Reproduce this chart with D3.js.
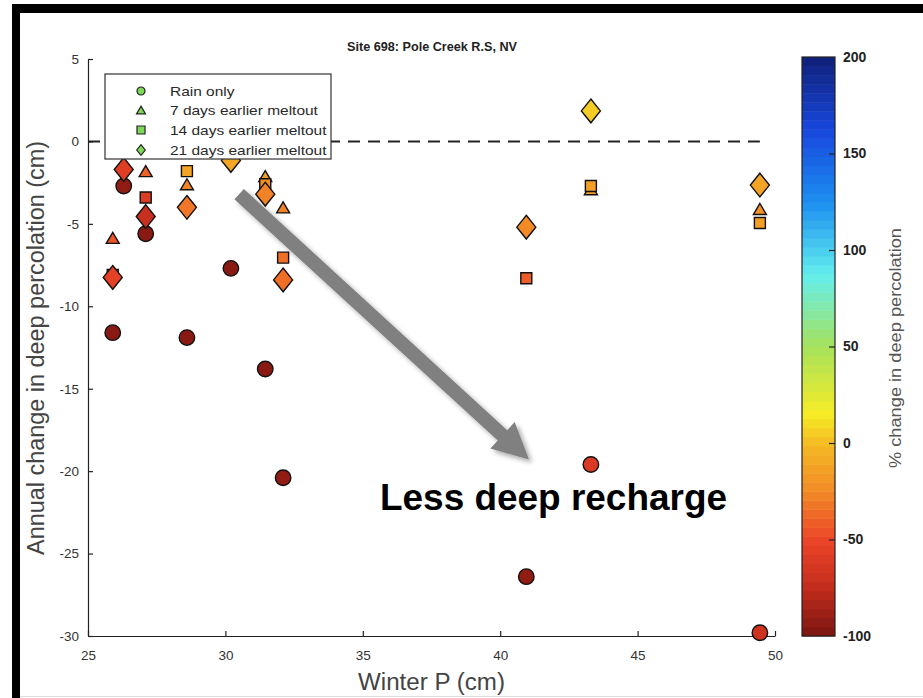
<!DOCTYPE html>
<html><head><meta charset="utf-8">
<script src="https://cdn.jsdelivr.net/npm/d3@7"></script>
<style>
html,body{margin:0;padding:0;background:#fff;}
svg{display:block;font-family:"Liberation Sans",Arial,Helvetica,sans-serif;}
</style></head><body>
<svg id="chart" width="923" height="698"></svg>
<script>
// Winter precipitation (cm) for each simulated year
const winterP = [25.9, 26.3, 27.1, 28.6, 30.2, 31.45, 32.1, 40.95, 43.3, 49.45];

// Annual change in deep percolation (cm) per scenario (null = not shown)
const rainOnly = [-11.6, -2.7, -5.6, -11.9, -7.7, -13.8, -20.4, -26.4, -19.6, -29.8];
const days7    = [-5.85, null, -1.8, -2.6, null, -2.1, -4.0, null, -2.9, -4.1];
const days14   = [-8.1, null, -3.4, -1.8, null, -2.6, -7.05, -8.3, -2.7, -4.95];
const days21   = [-8.25, -1.7, -4.55, -4.0, -1.15, -3.2, -8.4, -5.2, 1.85, -2.65];

// % change in deep percolation (marker colour)
const pctRain = [-95, -92, -95, -95, -95, -95, -92, -92, -62, -68];
const pct7    = [-45, null, -40, -28, null, -15, -28, null, -15, -22];
const pct14   = [-60, null, -60, -12, null, -22, -35, -42, -15, -15];
const pct21   = [-55, -58, -72, -32, -10, -28, -35, -25, 5, -12];

const seriesNames = ["Rain only", "7 days earlier meltout", "14 days earlier meltout", "21 days earlier meltout"];

const xTicks = [25, 30, 35, 40, 45, 50];
const yTicks = [5, 0, -5, -10, -15, -20, -25, -30];
const cbTicks = [200, 150, 100, 50, 0, -50, -100];

// colour map stops (reversed jet)
const cmapStops  = [-100, -75, -50, -25, 0, 15, 50, 87.5, 125, 162.5, 200];
const cmapColors = ["#7a1510", "#c22c1d", "#ec4629", "#f28a26", "#f4bb24", "#f6ec26",
                    "#a6e25c", "#62eeee", "#1c8ef0", "#1747dd", "#101f78"];

const svg = d3.select("#chart");
const W = 923, H = 698;

const x = d3.scaleLinear().domain([25, 50]).range([88, 775]);
const y = d3.scaleLinear().domain([-30, 5]).range([636, 59]);
const color = d3.scaleLinear().domain(cmapStops).range(cmapColors).interpolate(d3.interpolateRgb).clamp(true);
const cbY = d3.scaleLinear().domain([-100, 200]).range([636, 57]);

// stretch a text element to a given run length
function fitLength(sel, len) {
  sel.attr("textLength", len).attr("lengthAdjust", "spacingAndGlyphs");
}

// page frame
svg.append("rect").attr("x", 0).attr("y", 0).attr("width", W).attr("height", H).attr("fill", "#fff");
svg.append("rect").attr("x", 12).attr("y", 4).attr("width", W - 12).attr("height", 9).attr("fill", "#000");
svg.append("rect").attr("x", 12).attr("y", 4).attr("width", 8).attr("height", H - 4).attr("fill", "#000");
svg.append("line").attr("x1", 20).attr("x2", W).attr("y1", 696.5).attr("y2", 696.5).attr("stroke", "#ddd");

const defs = svg.append("defs");
const shadow = defs.append("filter").attr("id", "shadow").attr("x", "-20%").attr("y", "-20%").attr("width", "140%").attr("height", "140%");
shadow.append("feDropShadow").attr("dx", 3).attr("dy", 3).attr("stdDeviation", 2.5)
  .attr("flood-color", "#000").attr("flood-opacity", 0.35);

// axes
const axisColor = "#222";
const gy = svg.append("g").attr("transform", `translate(${x(25)},0)`)
  .call(d3.axisLeft(y).tickValues(yTicks).tickSizeInner(-5).tickSizeOuter(0).tickPadding(9).tickFormat(d3.format("d")));
const gx = svg.append("g").attr("transform", `translate(0,${y(-30)})`)
  .call(d3.axisBottom(x).tickValues(xTicks).tickSizeInner(-5).tickSizeOuter(0).tickPadding(14).tickFormat(d3.format("d")));
[gx, gy].forEach(g => {
  g.select(".domain").attr("stroke", axisColor).attr("stroke-width", 1.2);
  g.selectAll(".tick line").attr("stroke", axisColor).attr("stroke-width", 1.2);
  g.selectAll(".tick text").attr("fill", "#333").attr("font-size", 13.5).attr("font-family", "Liberation Sans, Arial, sans-serif");
});
gy.selectAll(".tick text").text(d => d < 0 ? "-" + Math.abs(d) : d);

// zero reference line
svg.append("line")
  .attr("x1", x(25)).attr("x2", x(d3.max(winterP)))
  .attr("y1", y(0)).attr("y2", y(0))
  .attr("stroke", "#222").attr("stroke-width", 2).attr("stroke-dasharray", "12,8");

// marker shapes
const circleSym = { draw(ctx, s) { const r = Math.sqrt(s) / 2; ctx.moveTo(r, 0); ctx.arc(0, 0, r, 0, 2 * Math.PI); } };
const triSym = { draw(ctx, s) { const w = Math.sqrt(s) / 2; const h = w * 0.85;
  ctx.moveTo(0, -h); ctx.lineTo(w, h); ctx.lineTo(-w, h); ctx.closePath(); } };
const sqSym = { draw(ctx, s) { const a = Math.sqrt(s) / 2; ctx.rect(-a, -a, 2 * a, 2 * a); } };
const diaSym = { draw(ctx, s) { const w = Math.sqrt(s) / 2; const h = w * 1.25;
  ctx.moveTo(0, -h); ctx.lineTo(w, 0); ctx.lineTo(0, h); ctx.lineTo(-w, 0); ctx.closePath(); } };

const series = [
  { vals: rainOnly, pct: pctRain, sym: circleSym, size: 15.5 },
  { vals: days7,    pct: pct7,    sym: triSym,    size: 13 },
  { vals: days14,   pct: pct14,   sym: sqSym,     size: 11 },
  { vals: days21,   pct: pct21,   sym: diaSym,    size: 19 }
];

const markers = svg.append("g");
series.forEach(s => {
  const pts = winterP.map((w, i) => ({ w, v: s.vals[i], p: s.pct[i] })).filter(d => d.v !== null);
  markers.append("g").selectAll("path").data(pts).join("path")
    .attr("transform", d => `translate(${x(d.w)},${y(d.v)})`)
    .attr("d", d3.symbol().type(s.sym).size(s.size * s.size))
    .attr("fill", d => color(d.p))
    .attr("stroke", "#111").attr("stroke-width", 1.4);
});

// annotation arrow (data coordinates)
const arrowFrom = [30.5, -3.2];
const arrowTo = [41.05, -19.3];
(function drawArrow() {
  const x0 = x(arrowFrom[0]), y0 = y(arrowFrom[1]);
  const x1 = x(arrowTo[0]), y1 = y(arrowTo[1]);
  const dx = x1 - x0, dy = y1 - y0, L = Math.hypot(dx, dy);
  const ux = dx / L, uy = dy / L, nx = -uy, ny = ux;
  const shaftHalf = 7, headLen = 36, headHalf = 18;
  const bx = x1 - ux * headLen, by = y1 - uy * headLen;
  const pts = [
    [x0 + nx * shaftHalf, y0 + ny * shaftHalf],
    [bx + nx * shaftHalf, by + ny * shaftHalf],
    [bx + nx * headHalf, by + ny * headHalf],
    [x1, y1],
    [bx - nx * headHalf, by - ny * headHalf],
    [bx - nx * shaftHalf, by - ny * shaftHalf],
    [x0 - nx * shaftHalf, y0 - ny * shaftHalf]
  ];
  svg.append("path").attr("d", d3.line()(pts) + "Z")
    .attr("fill", "#808080").attr("filter", "url(#shadow)");
})();

svg.append("text").attr("x", 380).attr("y", 510)
  .attr("font-size", 36).attr("font-weight", "bold").attr("fill", "#000")
  .text("Less deep recharge").call(fitLength, 347);

// legend
const lg = svg.append("g");
lg.append("rect").attr("x", 105).attr("y", 74).attr("width", 226).attr("height", 85)
  .attr("fill", "#fff").attr("stroke", "#333").attr("stroke-width", 1.2);
const legendRowY = [91, 110, 130, 150];
const legendSize = [8, 9, 8, 8.5];
series.forEach((s, i) => {
  lg.append("path").attr("transform", `translate(141,${legendRowY[i]})`)
    .attr("d", d3.symbol().type(s.sym).size(legendSize[i] * legendSize[i]))
    .attr("fill", "#7bd858").attr("stroke", "#222").attr("stroke-width", 1.2);
  const t = lg.append("text").attr("x", 170).attr("y", legendRowY[i] + 4.5)
    .attr("font-size", 13).attr("fill", "#2a2a2a").text(seriesNames[i]);
  t.call(fitLength, t.node().getComputedTextLength() * 1.19);
});

// title
svg.append("text").attr("x", 432).attr("y", 51).attr("text-anchor", "middle")
  .attr("font-size", 12.5).attr("font-weight", "bold").attr("fill", "#222")
  .text("Site 698: Pole Creek R.S, NV").call(fitLength, 170);

// axis labels
svg.append("text").attr("x", x(37.5)).attr("y", 690).attr("text-anchor", "middle")
  .attr("font-size", 23).attr("fill", "#444").text("Winter P (cm)").call(fitLength, 147);
svg.append("text").attr("transform", `translate(43.5,348) rotate(-90)`)
  .attr("text-anchor", "middle").attr("font-size", 23).attr("fill", "#444")
  .text("Annual change in deep percolation (cm)").call(fitLength, 414);

// colour bar
const cbX = 802, cbW = 33;
const cbBands = d3.range(64);
const bandH = (cbY(-100) - cbY(200)) / 64;
svg.append("g").selectAll("rect").data(cbBands).join("rect")
  .attr("x", cbX).attr("width", cbW)
  .attr("y", i => cbY(-100) - (i + 1) * bandH).attr("height", bandH + 0.5)
  .attr("fill", i => color(-100 + (i + 0.5) * 300 / 64));
svg.append("rect").attr("x", cbX).attr("y", cbY(200)).attr("width", cbW).attr("height", cbY(-100) - cbY(200))
  .attr("fill", "none").attr("stroke", "#222").attr("stroke-width", 1.2);
const gc = svg.append("g").attr("transform", `translate(${cbX + cbW},0)`)
  .call(d3.axisRight(cbY).tickValues(cbTicks).tickSizeInner(-6).tickSizeOuter(0).tickPadding(8).tickFormat(d3.format("d")));
gc.select(".domain").remove();
gc.selectAll(".tick line").attr("stroke", "#222").attr("stroke-width", 1.2);
gc.selectAll(".tick text").attr("fill", "#222").attr("font-size", 14).attr("font-weight", "bold")
  .attr("font-family", "Liberation Sans, Arial, sans-serif").text(d => d < 0 ? "-" + Math.abs(d) : d);
gc.selectAll(".tick").filter(d => d === 200 || d === -100).select("line").remove();

svg.append("text").attr("transform", `translate(901,348) rotate(-90)`)
  .attr("text-anchor", "middle").attr("font-size", 16).attr("fill", "#555")
  .text("% change in deep percolation").call(fitLength, 240);
</script>
</body></html>
